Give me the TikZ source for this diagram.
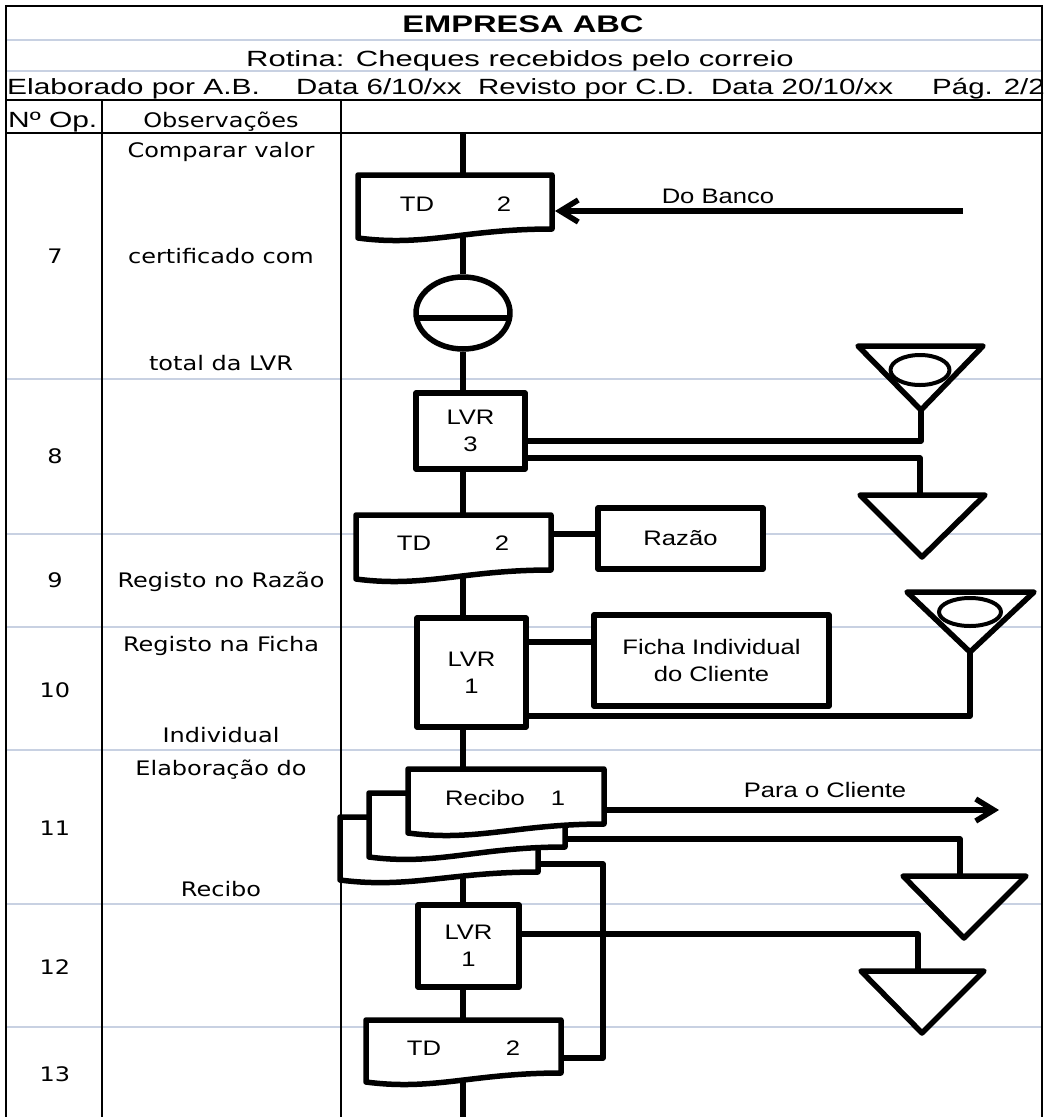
\documentclass[tikz,border=0pt]{standalone}
\usepackage{fontspec}
\setmainfont{Liberation Sans}
\newfontfamily\tabfont{DejaVu Sans}
\usepackage{graphicx}
\usetikzlibrary{arrows.meta,calc,shapes.geometric}
\pgfdeclarelayer{bg}
\pgfsetlayers{bg,main}
\definecolor{gridc}{RGB}{200,209,226}
\newcommand{\hsx}[1]{\scalebox{1.34}[1]{#1}}
\newcommand{\tsx}[1]{\scalebox{1.2}[1]{#1}}
\newcommand{\fsx}[1]{\scalebox{1.22}[1]{#1}}
\newcommand{\docshape}[6]{%
  \filldraw[shp] (#2,#3) -- (#4,#3) -- (#4,#5)
    .. controls ({#2+0.55*(#4-#2)},#5) and ({#2+0.35*(#4-#2)},{#6+9}) .. (#2,#6) -- cycle;
  \node[boxarea, minimum width={#4-#2}, minimum height={#5-#3}] (#1) at ({(#2+#4)/2},{(#3+#5)/2}) {};}
\begin{document}
\begin{tikzpicture}[x=1pt,y=-1pt,
  grid/.style={draw=gridc,line width=2.5},
  tline/.style={draw=black,line width=2.5},
  conn/.style={draw=black,line width=5.5,line join=round},
  shp/.style={draw=black,fill=white,line width=5.5,line join=round},
  boxarea/.style={inner sep=0,outer sep=0,draw=none},
  rbox/.style={shp,rectangle,inner sep=0,align=center,font=\fontsize{21}{27}\selectfont},
  ovalsh/.style={shp,ellipse,line width=4,inner sep=0},
  hdr/.style={inner sep=0,font=\fontsize{22}{26}\selectfont},
  cell/.style={inner sep=0,anchor=base,font=\tabfont\fontsize{20}{24}\selectfont},
  flab/.style={inner sep=0,anchor=base,font=\fontsize{21}{25}\selectfont},
  arr/.style={conn,-{Straight Barb[length=18pt,width=22pt]}}
]
\useasboundingbox (0,0) rectangle (1046,1117);

% ---------- header texts ----------
\node[hdr,anchor=base,font=\fontsize{24}{27}\selectfont\bfseries] (title) at (523,32) {\scalebox{1.36}[1]{EMPRESA ABC}};
\node[hdr,anchor=base] (rotina) at (520,66) {\scalebox{1.41}[1]{Rotina: Cheques recebidos pelo correio}};
\node[hdr,anchor=base west] (elab) at (7,94) {\scalebox{1.36}[1]{Elaborado por A.B.}};
\node[hdr,anchor=base west] (data1) at (296,94) {\hsx{Data 6/10/xx}};
\node[hdr,anchor=base west] (rev) at (478,94) {\hsx{Revisto por C.D.}};
\node[hdr,anchor=base west] (data2) at (711,94) {\hsx{Data 20/10/xx}};
\node[hdr,anchor=base west] (pag) at (932,94) {\hsx{Pág. 2/2}};
\node[hdr,anchor=base west] (nop) at (8,127) {\scalebox{1.36}[1]{Nº Op.}};
\node[cell] (obs) at (221,127) {\tsx{Observações}};

% ---------- table texts ----------
\node[cell] (o7a) at (221,157) {\tsx{Comparar valor}};
\node[cell] (o7b) at (221,263) {\tsx{certificado com}};
\node[cell] (o7c) at (221,370) {\tsx{total da LVR}};
\node[cell] (n7) at (55,263) {\tsx{7}};
\node[cell] (n8) at (55,463) {\tsx{8}};
\node[cell] (n9) at (55,587) {\tsx{9}};
\node[cell] (o9) at (221,587) {\tsx{Registo no Razão}};
\node[cell] (o10a) at (221,651) {\tsx{Registo na Ficha}};
\node[cell] (n10) at (55,697) {\tsx{10}};
\node[cell] (o10b) at (221,742) {\tsx{Individual}};
\node[cell] (o11a) at (221,775) {\tsx{Elaboração do}};
\node[cell] (n11) at (55,835) {\tsx{11}};
\node[cell] (o11b) at (221,896) {\tsx{Recibo}};
\node[cell] (n12) at (55,974) {\tsx{12}};
\node[cell] (n13) at (55,1081) {\tsx{13}};

% ---------- flow shapes ----------
\docshape{td1}{358}{175}{552}{229}{238}
\node[shp,ellipse,minimum width=94,minimum height=72,inner sep=0] (cmp) at (463,313) {};
\draw[conn] ($(cmp.center)+(-46.5,5)$) -- ($(cmp.center)+(46.5,5)$);
\node[rbox,minimum width=109,minimum height=76] (lvr3) at (470.5,431) {\fsx{LVR}\\\fsx{3}};
\filldraw[shp] (858,346) -- (983,346) -- (921,410) -- cycle;
\coordinate (triA) at (921,410);
\node[ovalsh,minimum width=59,minimum height=30] (ovA) at (920,370) {};
\filldraw[shp] (860,495) -- (985,495) -- (922,557) -- cycle;
\coordinate (triB) at (920,495);
\docshape{td2}{356}{515}{551}{570}{579}
\node[rbox,minimum width=165,minimum height=61] (razao) at (680.5,538.5) {\fsx{Razão}};
\node[rbox,minimum width=109,minimum height=109] (lvr1a) at (471.5,672.5) {\fsx{LVR}\\\fsx{1}};
\node[rbox,minimum width=235,minimum height=91] (ficha) at (711.5,660.5) {\fsx{Ficha Individual}\\\fsx{do Cliente}};
\filldraw[shp] (907,592) -- (1034,592) -- (970,652) -- cycle;
\coordinate (triC) at (970,652);
\node[ovalsh,minimum width=62,minimum height=28] (ovC) at (970,612) {};
\docshape{rec3}{340}{817}{538}{872}{880}
\docshape{rec2}{369}{793}{565}{847}{857}
\docshape{rec1}{408}{769}{604}{824}{833}
\filldraw[shp] (903,876) -- (1026,876) -- (964,938) -- cycle;
\coordinate (triD) at (960,876);
\node[rbox,minimum width=101,minimum height=82] (lvr1b) at (468.5,946) {\fsx{LVR}\\\fsx{1}};
\filldraw[shp] (861,971) -- (984,971) -- (922,1033) -- cycle;
\coordinate (triE) at (918,971);
\docshape{td3}{366}{1020}{561}{1073}{1082}

% ---------- flow texts ----------
\node[flab] (td1a) at (417,211) {\fsx{TD}};
\node[flab] (td1n) at (504,211) {\fsx{2}};
\node[flab] (dob) at (718,203) {\fsx{Do Banco}};
\node[flab] (td2a) at (414,550) {\fsx{TD}};
\node[flab] (td2n) at (502,550) {\fsx{2}};
\node[flab] (reca) at (485,805) {\fsx{Recibo}};
\node[flab] (recn) at (558,805) {\fsx{1}};
\node[flab] (pcl) at (825,797) {\fsx{Para o Cliente}};
\node[flab] (td3a) at (424,1055) {\fsx{TD}};
\node[flab] (td3n) at (513,1055) {\fsx{2}};

% ---------- coordinates ----------
\coordinate (fx) at (463,0);
\coordinate (top) at (463,133);
\coordinate (td1b) at (463,233);
\coordinate (td2b) at (463,574);
\coordinate (rec3b) at (463,874);
\coordinate (td3b) at (463,1077);
\coordinate (bottom) at (463,1125);
\coordinate (dbStart) at (963,211);
\coordinate (pcEnd) at (999,810);
\coordinate (rzIn) at ($(razao.west)+(0,-4.5)$);
\coordinate (fcIn) at ($(ficha.west)+(0,-18.5)$);
\coordinate (loop) at (603,1058);

\begin{pgfonlayer}{bg}
  \fill[white] (0,0) rectangle (1046,1117);
  % grid lines
  \foreach \yy in {40,71,379,534,627,750,904,1027}
    \draw[grid] (6,\yy) -- (1042,\yy);
  % table lines
  \draw[tline] (6,1125) -- (6,6) -- (1042,6) -- (1042,1125);
  \draw[tline] (6,100) -- (1042,100);
  \draw[tline] (6,133) -- (1042,133);
  \draw[tline] (102,100) -- (102,1125);
  \draw[tline] (341,100) -- (341,1125);
  % main flow
  \draw[conn] (top) -- (fx |- td1.north);
  \draw[conn] (td1b) -- (fx |- cmp.north);
  \draw[conn] (fx |- cmp.south) -- (fx |- lvr3.north);
  \draw[conn] (fx |- lvr3.south) -- (fx |- td2.north);
  \draw[conn] (td2b) -- (fx |- lvr1a.north);
  \draw[conn] (fx |- lvr1a.south) -- (fx |- rec1.north);
  \draw[conn] (rec3b) -- (fx |- lvr1b.north);
  \draw[conn] (fx |- lvr1b.south) -- (fx |- td3.north);
  \draw[conn] (td3b) -- (bottom);
  % side connectors
  \draw[arr,shorten >=3pt] (dbStart) -- (dbStart -| td1.east);
  \draw[conn] ($(lvr3.east)+(0,10)$) -| (triA);
  \draw[conn] ($(lvr3.east)+(0,27)$) -| (triB);
  \draw[conn] (rzIn -| td2.east) -- (rzIn);
  \draw[conn] (fcIn -| lvr1a.east) -- (fcIn);
  \draw[conn] ($(lvr1a.east)+(0,43.5)$) -| (triC);
  \draw[arr] (pcEnd -| rec1.east) -- (pcEnd);
  \draw[conn] ($(rec2.east)+(0,19)$) -| (triD);
  \draw[conn] ($(rec3.east)+(0,19.5)$) -| (loop) -- (loop -| td3.east);
  \draw[conn] ($(lvr1b.east)+(0,-12)$) -| (triE);
\end{pgfonlayer}
\end{tikzpicture}
\end{document}
